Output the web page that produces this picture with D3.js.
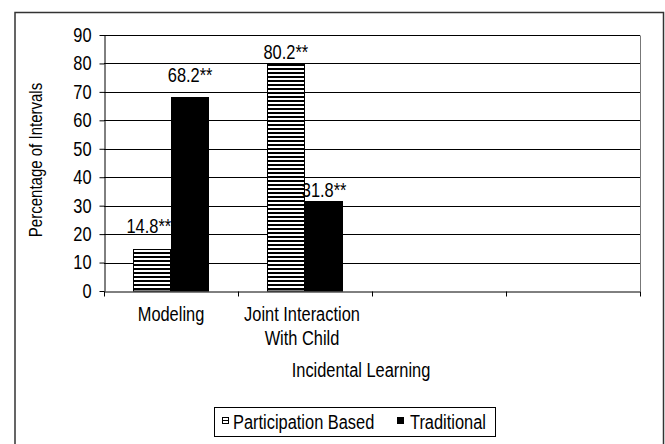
<!DOCTYPE html>
<html>
<head>
<meta charset="utf-8">
<script src="https://cdn.jsdelivr.net/npm/d3@7/dist/d3.min.js"></script>
<style>
  html, body { margin: 0; padding: 0; background: #fff; }
  svg text { font-family: "Liberation Sans", Arial, sans-serif; fill: #000; }
</style>
</head>
<body>
<svg id="chart" width="665" height="444"></svg>
<script>
// ---- data ----
const categories = ["Modeling", "Joint Interaction\nWith Child", "", ""];
const seriesNames = ["Participation Based", "Traditional"];
const participationBased = [14.8, 80.2, null, null];
const traditional = [68.2, 31.8, null, null];
const participationLabels = ["14.8**", "80.2**", "", ""];
const traditionalLabels = ["68.2**", "31.8**", "", ""];
const yTicks = [0, 10, 20, 30, 40, 50, 60, 70, 80, 90];
const yTitle = "Percentage of Intervals";
const xTitle = "Incidental Learning";

// ---- layout ----
(function () {
const svg = d3.select("#chart");
const pLeft = 104, pRight = 640, pTop = 35, pBottom = 291;
const FS = 20;
const NARROW = 0.82;

// condense real text to mimic a narrow typeface
function narrow(sel, factor) {
  const f = factor || NARROW;
  sel.each(function () {
    const w = this.getComputedTextLength();
    if (w > 0) {
      this.setAttribute("textLength", (w * f).toFixed(2));
      this.setAttribute("lengthAdjust", "spacingAndGlyphs");
    }
  });
}

const x = d3.scaleBand().domain(d3.range(categories.length)).range([pLeft, pRight]).padding(0);
const xEdge = d3.scaleLinear().domain([0, categories.length]).range([pLeft, pRight]);
const xs = d3.scaleBand().domain([0, 1]).range([0, x.bandwidth()]).paddingInner(0).paddingOuter(0.75);
const y = d3.scaleLinear().domain([0, 90]).range([pBottom, pTop]);

// pattern
const defs = svg.append("defs");
const pat = defs.append("pattern").attr("id", "hatch").attr("patternUnits", "userSpaceOnUse")
  .attr("width", 4).attr("height", 4).attr("y", 0);
pat.append("rect").attr("width", 4).attr("height", 4).attr("fill", "#fff");
pat.append("rect").attr("width", 4).attr("height", 2).attr("fill", "#000");

// outer border
svg.append("rect").attr("x", 15).attr("y", 12.5).attr("width", 648.5).attr("height", 445)
  .attr("fill", "none").attr("stroke", "#333").attr("stroke-width", 1.5);

// gridlines
svg.append("g").selectAll("line").data(yTicks.filter(d => d > 0)).join("line")
  .attr("x1", pLeft).attr("x2", pRight)
  .attr("y1", d => Math.round(y(d)) + 0.5).attr("y2", d => Math.round(y(d)) + 0.5)
  .attr("stroke", "#000").attr("stroke-width", 1);

// right plot edge
svg.append("line").attr("x1", pRight + 0.5).attr("x2", pRight + 0.5)
  .attr("y1", Math.round(y(90)) + 0.5).attr("y2", pBottom)
  .attr("stroke", "#777").attr("stroke-width", 1);

// bars
const seriesData = [
  { name: seriesNames[0], values: participationBased, labels: participationLabels, fill: "url(#hatch)" },
  { name: seriesNames[1], values: traditional, labels: traditionalLabels, fill: "#000" }
];
const labelDy = [[-16, -4], [-15, -4]];
const labelDx = [[-3, 0], [0, 0]];

seriesData.forEach((s, si) => {
  const g = svg.append("g");
  const data = s.values.map((v, i) => ({ v, i })).filter(d => d.v != null);
  g.selectAll("rect").data(data).join("rect")
    .attr("x", d => Math.round(x(d.i) + xs(si)) + 0.5)
    .attr("y", d => Math.round(y(d.v)) + 0.5)
    .attr("width", Math.round(xs.bandwidth()) - 1)
    .attr("height", d => pBottom - Math.round(y(d.v)) - 0.5)
    .attr("fill", s.fill).attr("stroke", "#000").attr("stroke-width", 1);
  g.selectAll("text").data(data).join("text")
    .attr("x", d => x(d.i) + xs(si) + xs.bandwidth() / 2 + labelDx[si][d.i])
    .attr("y", d => y(d.v) + labelDy[si][d.i])
    .attr("text-anchor", "middle").attr("font-size", FS)
    .text(d => s.labels[d.i])
    .call(narrow);
});

// y axis
const yAxis = svg.append("g").attr("transform", `translate(${pLeft + 0.5},0)`)
  .call(d3.axisLeft(y).tickValues(yTicks).tickSize(5).tickPadding(8).tickSizeOuter(0));
yAxis.attr("font-family", null).attr("font-size", FS);
yAxis.select(".domain").attr("stroke", "#000");
yAxis.selectAll(".tick line").attr("stroke", "#000");
yAxis.selectAll(".tick text").attr("fill", "#000").call(narrow);

// x axis
const xAxis = svg.append("g").attr("transform", `translate(0,${pBottom + 0.5})`)
  .call(d3.axisBottom(xEdge).tickValues(d3.range(categories.length + 1)).tickFormat("").tickSize(5).tickSizeOuter(0));
xAxis.select(".domain").attr("stroke", "#000");
xAxis.selectAll(".tick line").attr("stroke", "#000");

// category labels
categories.forEach((c, i) => {
  const lines = c.split("\n");
  lines.forEach((ln, k) => {
    if (!ln) return;
    svg.append("text").attr("x", x(i) + x.bandwidth() / 2 - (i === 1 ? 3 : 0)).attr("y", 321 + k * 24)
      .attr("text-anchor", "middle").attr("font-size", FS).text(ln).call(narrow);
  });
});

// axis titles
svg.append("text").attr("x", (pLeft + pRight) / 2 - 11).attr("y", 377)
  .attr("text-anchor", "middle").attr("font-size", FS).text(xTitle).call(narrow);
svg.append("text").attr("transform", `translate(42,160) rotate(-90)`)
  .attr("text-anchor", "middle").attr("font-size", 19).text(yTitle).call(narrow, 0.79);

// legend
const lg = svg.append("g");
lg.append("rect").attr("x", 214.5).attr("y", 407.5).attr("width", 281).attr("height", 29)
  .attr("fill", "#fff").attr("stroke", "#000").attr("stroke-width", 1);
lg.append("rect").attr("x", 222.5).attr("y", 417.5).attr("width", 6).attr("height", 6)
  .attr("fill", "#fff").attr("stroke", "#000").attr("stroke-width", 1);
lg.append("line").attr("x1", 222.5).attr("x2", 228.5).attr("y1", 420.5).attr("y2", 420.5)
  .attr("stroke", "#000").attr("stroke-width", 1);
lg.append("rect").attr("x", 397).attr("y", 417).attr("width", 7).attr("height", 7).attr("fill", "#000");
lg.append("text").attr("x", 233).attr("y", 429).attr("font-size", FS).text(seriesNames[0]).call(narrow);
lg.append("text").attr("x", 410).attr("y", 429).attr("font-size", FS).text(seriesNames[1]).call(narrow);
})();
</script>
</body>
</html>
